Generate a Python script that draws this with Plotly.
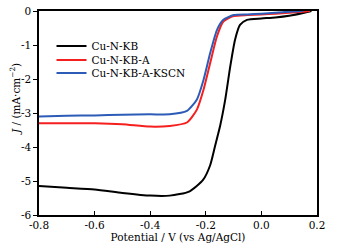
import plotly.graph_objects as go

v_kb = [-0.8, -0.7, -0.6, -0.5, -0.4, -0.33, -0.26, -0.21, -0.184, -0.166, -0.148, -0.13, -0.112, -0.095, -0.077, -0.052, 0.0, 0.05, 0.1, 0.15, 0.18]
j_kb = [-5.15, -5.2, -5.25, -5.35, -5.43, -5.43, -5.31, -4.97, -4.53, -3.95, -3.36, -2.6, -1.63, -0.85, -0.41, -0.26, -0.22, -0.19, -0.14, -0.06, 0.0]

v_a = [-0.8, -0.7, -0.6, -0.5, -0.4, -0.33, -0.268, -0.232, -0.208, -0.184, -0.16, -0.137, -0.10, -0.05, 0.0, 0.05, 0.1, 0.15, 0.175]
j_a = [-3.3, -3.3, -3.3, -3.33, -3.4, -3.38, -3.28, -2.9, -2.31, -1.52, -0.75, -0.31, -0.15, -0.12, -0.1, -0.08, -0.05, -0.02, 0.0]

v_k = [-0.8, -0.7, -0.6, -0.5, -0.4, -0.33, -0.268, -0.232, -0.208, -0.184, -0.16, -0.137, -0.10, -0.05, 0.0, 0.05, 0.1, 0.15]
j_k = [-3.1, -3.08, -3.07, -3.05, -3.04, -3.04, -2.94, -2.6, -2.02, -1.23, -0.56, -0.26, -0.12, -0.1, -0.08, -0.05, -0.02, 0.0]

names = ["Cu-N-KB", "Cu-N-KB-A", "Cu-N-KB-A-KSCN"]
colors = ["#000000", "#f51f1f", "#2c5cb8"]
legend_ids = ["legend", "legend2", "legend3"]
legend_rows = [0.899, 0.831, 0.767]

x_ticks = [-0.8, -0.6, -0.4, -0.2, 0.0, 0.2]
x_tick_text = ["-0.8", "-0.6", "-0.4", "-0.2", "0.0", "0.2"]
y_ticks = [0, -1, -2, -3, -4, -5, -6]
y_tick_text = ["0", "-1", "-2", "-3", "-4", "-5", "-6"]

FONT = "DejaVu Serif"
FS = 10.5

fig = go.Figure()
for v, j, n, c, lg in zip([v_kb, v_a, v_k], [j_kb, j_a, j_k], names, colors, legend_ids):
    fig.add_trace(go.Scatter(x=v, y=j, mode="lines", name=n, legend=lg,
                             line=dict(color=c, width=2, shape="spline", smoothing=0.6)))

leg_common = dict(xanchor="left", yanchor="top", bgcolor="rgba(0,0,0,0)",
                  font=dict(family=FONT, size=FS), itemwidth=30)
layout_legends = {}
for lg, yr in zip(legend_ids, legend_rows):
    layout_legends[lg] = dict(x=0.045, y=yr, **leg_common)

fig.update_layout(
    width=340, height=252,
    margin=dict(l=39, r=23, t=11, b=37, autoexpand=False),
    paper_bgcolor="white", plot_bgcolor="white",
    font=dict(family=FONT, size=FS, color="black"),
    showlegend=True,
    **layout_legends,
)
fig.update_xaxes(
    range=[-0.8, 0.2], tickvals=x_ticks, ticktext=x_tick_text,
    ticks="inside", ticklen=4, tickwidth=1.2, tickcolor="black",
    showline=True, linecolor="black", linewidth=1.5, mirror=True,
    showgrid=False, zeroline=False,
    title=dict(text="Potential / V (vs Ag/AgCl)", font=dict(family=FONT, size=FS), standoff=3),
)
fig.update_yaxes(
    range=[-6, 0], tickvals=y_ticks, ticktext=y_tick_text,
    ticks="outside", ticklen=4, tickwidth=1.2, tickcolor="black",
    showline=True, linecolor="black", linewidth=1.5, mirror=True,
    showgrid=False, zeroline=False,
)
fig.add_annotation(
    text="<i>J</i> / (mA·cm<sup>−2</sup>)", xref="paper", yref="paper",
    x=-0.086, y=0.569, xanchor="center", yanchor="middle", textangle=-90,
    showarrow=False, font=dict(family=FONT, size=FS),
)

fig.write_html("out.html", config={"displayModeBar": False},
               post_script="document.body.style.margin='0';document.body.style.overflow='hidden';")
